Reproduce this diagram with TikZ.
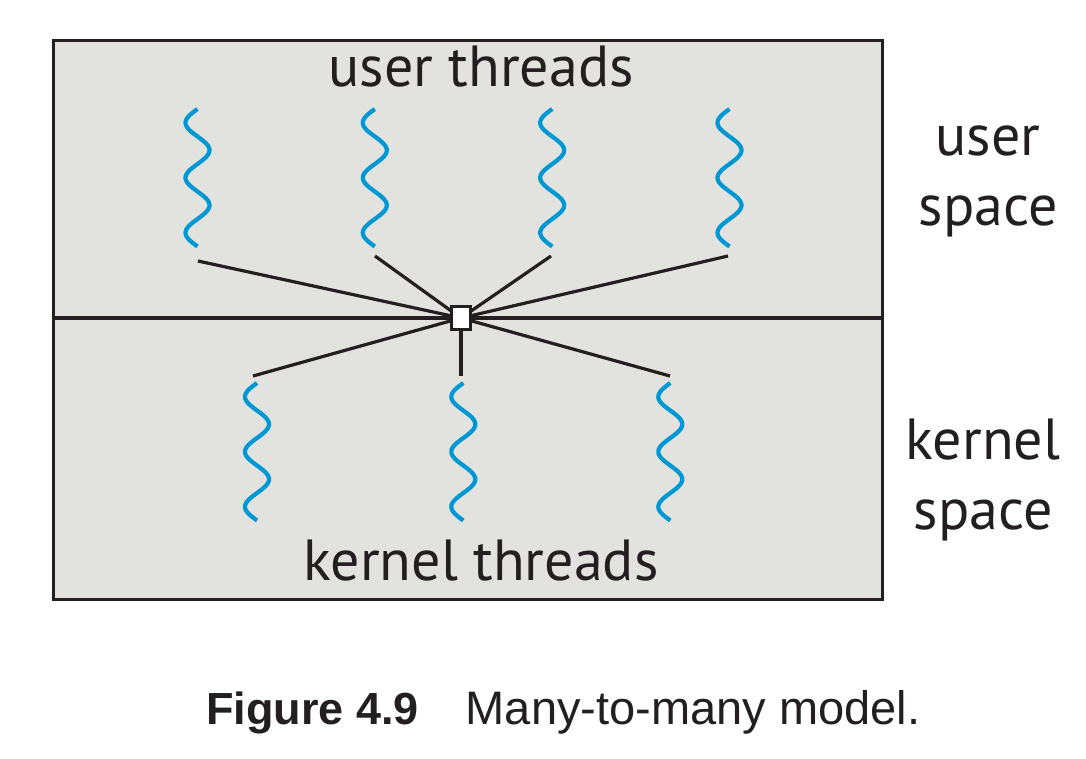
\documentclass[tikz,border=0pt]{standalone}
\usepackage{fontspec}
\setmainfont{PT Sans}
\newfontfamily\capfont{Liberation Sans}
\definecolor{bggray}{HTML}{E2E3DF}
\definecolor{thrblue}{HTML}{0098D4}
\definecolor{ink}{HTML}{231F20}
\tikzset{
  lbl/.style={font=\fontsize{58}{70}\selectfont, text=ink, inner sep=0pt, align=center},
  wire/.style={draw=ink, line width=3.2pt},
  thread/.style={draw=thrblue, line width=4.2pt},
  threadpic/.pic={\draw[thread] plot[domain=0:137.5, samples=90, smooth] ({-12*sin(\x*6.5455)}, {\x});},
  hubbox/.style={draw=ink, fill=white, line width=3pt, minimum width=18.5pt, minimum height=23pt, inner sep=0pt},
  frame/.style={draw=ink, fill=bggray, line width=3pt, inner sep=0pt}
}
\begin{document}
\begin{tikzpicture}[x=1pt,y=-1pt]
\useasboundingbox (0,0) rectangle (1086,758);
\fill[white] (0,0) rectangle (1086,758);
% frame
\node[frame, minimum width=829pt, minimum height=559pt, anchor=north west] (box) at (51.5,38.5) {};
\coordinate (midL) at (51.5,318);
\coordinate (midR) at (880.5,318);
\draw[wire] (midL) -- (midR);
% threads
\pic (u1) at (197.5,109) {threadpic};
\pic (u2) at (374.8,109) {threadpic};
\pic (u3) at (552.2,109) {threadpic};
\pic (u4) at (729.5,109) {threadpic};
\pic (k1) at (257,383) {threadpic};
\pic (k2) at (463.3,383) {threadpic};
\pic (k3) at (670.3,383) {threadpic};
% connector ends
\coordinate (hubc) at (461,318);
\coordinate (u1e) at (198,261);
\coordinate (u2e) at (375,256);
\coordinate (u3e) at (551,256);
\coordinate (u4e) at (728,256);
\coordinate (k1e) at (253,376);
\coordinate (k2e) at (461,376);
\coordinate (k3e) at (670,376);
\foreach \e in {u1e,u2e,u3e,u4e,k1e,k2e,k3e} \draw[wire] (\e) -- (hubc);
\node[hubbox] (hub) at (hubc) {};
% labels
\node[lbl, anchor=base] (ut) at (481,86.7) {user threads};
\node[lbl, anchor=base] (kt) at (481,580) {kernel threads};
\node[lbl, anchor=base] (us) at (988,225) {user\\space};
\node[lbl, anchor=base] (ks) at (983,529) {kernel\\space};
\node[anchor=base west, inner sep=0pt, text=ink, font=\capfont] (cap) at (206,724) {{\fontsize{45}{50}\selectfont\bfseries Figure 4.9}\hspace{47pt}{\fontsize{47}{50}\selectfont Many-to-many model.}};
\end{tikzpicture}
\end{document}
